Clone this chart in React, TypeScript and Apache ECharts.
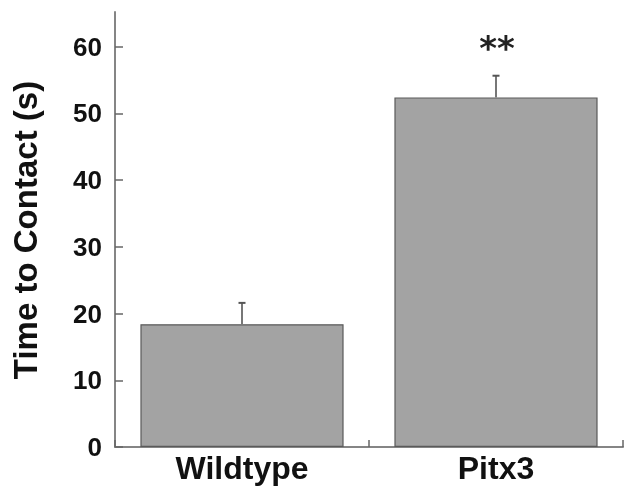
import React, { useEffect, useRef } from "react";
import * as echarts from "echarts";

const categories = ["Wildtype", "Pitx3"];
const means = [18.4, 52.4];
const errors = [3.2, 3.25];
const significance = ["", "**"];
const yTicks = [0, 10, 20, 30, 40, 50, 60];
const yTitle = "Time to Contact (s)";

export default function App() {
  const ref = useRef<HTMLDivElement>(null);
  useEffect(() => {
    if (!ref.current) return;
    const chart = echarts.init(ref.current, null, { renderer: "svg" });
    const font = "'Liberation Sans', Arial, Helvetica, sans-serif";
    const axisColor = "#858585";
    chart.setOption({
      animation: false,
      grid: { left: 115, right: 1, top: 12, bottom: 40 },
      xAxis: {
        type: "category",
        data: categories,
        boundaryGap: true,
        axisLine: { lineStyle: { color: axisColor, width: 2 } },
        axisTick: { show: true, inside: true, length: 7, interval: 0, lineStyle: { color: "#666", width: 1.5 } },
        axisLabel: {
          color: "#111",
          fontFamily: font,
          fontWeight: "bold",
          fontSize: 32,
          margin: 5,
        },
      },
      yAxis: {
        type: "value",
        min: 0,
        max: 65.2,
        interval: 10,
        splitLine: { show: false },
        axisLine: { show: true, lineStyle: { color: axisColor, width: 2 } },
        axisTick: {
          show: true,
          inside: true,
          length: 8,
          customValues: yTicks,
          lineStyle: { color: "#666", width: 1.5 },
        },
        axisLabel: {
          color: "#111",
          fontFamily: font,
          fontWeight: "bold",
          fontSize: 26,
          margin: 13,
          customValues: yTicks,
          formatter: (v: number) => (v % 10 === 0 ? String(v) : ""),
        },
      },
      graphic: [
        {
          type: "text",
          x: 25,
          y: 230,
          rotation: Math.PI / 2,
          style: {
            text: yTitle,
            fill: "#111",
            font: `bold 33px ${font}`,
            textAlign: "center",
            textVerticalAlign: "middle",
          },
        },
      ],
      series: [
        {
          type: "bar",
          data: means,
          barCategoryGap: "20%",
          itemStyle: { color: "#a3a3a3", borderColor: "#5a5a5a", borderWidth: 1.2 },
          z: 2,
        },
        {
          type: "custom",
          z: 3,
          data: categories.map((c, i) => [i, means[i], errors[i]]),
          renderItem: (params: any, api: any) => {
            const i = api.value(0);
            const m = api.value(1);
            const e = api.value(2);
            const base = api.coord([i, m]);
            const top = api.coord([i, m + e]);
            const color = "#777";
            return {
              type: "group",
              children: [
                {
                  type: "line",
                  shape: { x1: base[0], y1: base[1], x2: top[0], y2: top[1] },
                  style: { stroke: color, lineWidth: 2 },
                },
                {
                  type: "line",
                  shape: { x1: top[0] - 3.5, y1: top[1], x2: top[0] + 3.5, y2: top[1] },
                  style: { stroke: "#555", lineWidth: 2 },
                },
              ],
            };
          },
        },
        {
          type: "custom",
          z: 4,
          data: categories.map((c, i) => [i, significance[i]]),
          renderItem: (params: any, api: any) => {
            const i = params.dataIndex;
            const p = api.coord([i, 59.8]);
            return {
              type: "text",
              x: p[0] + 1,
              y: p[1],
              style: {
                text: significance[i],
                fill: "#222",
                font: "bold 34px 'DejaVu Sans', sans-serif",
                textAlign: "center",
                textVerticalAlign: "middle",
              },
            };
          },
        },
      ],
    });
    return () => chart.dispose();
  }, []);
  return (
    <div
      ref={ref}
      style={{ position: "fixed", left: 0, top: 0, width: 624, height: 487 }}
    />
  );
}
